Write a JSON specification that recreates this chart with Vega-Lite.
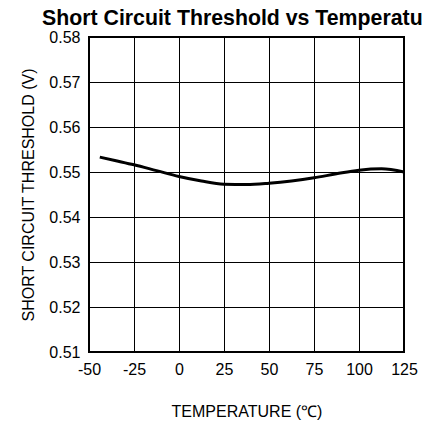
{
  "$schema": "https://vega.github.io/schema/vega-lite/v6.json",
  "autosize": "none",
  "width": 315,
  "height": 315,
  "padding": {"left": 89, "top": 37, "right": 22, "bottom": 76},
  "background": "white",
  "config": {
    "font": "Liberation Sans",
    "view": {"stroke": "black", "strokeWidth": 2}
  },
  "title": {
    "text": "Short Circuit Threshold vs Temperatu",
    "anchor": "start",
    "frame": "group",
    "dx": -47,
    "offset": 0,
    "font": "Liberation Sans",
    "fontSize": 21.3,
    "fontWeight": "bold",
    "color": "black"
  },
  "data": {
    "values": [
      {"temp": -44, "v": 0.5533},
      {"temp": -35, "v": 0.5525},
      {"temp": -25, "v": 0.5516},
      {"temp": -12.5, "v": 0.5503},
      {"temp": 0, "v": 0.5490},
      {"temp": 12.5, "v": 0.5480},
      {"temp": 25, "v": 0.5473},
      {"temp": 37.5, "v": 0.5472},
      {"temp": 50, "v": 0.5475},
      {"temp": 62.5, "v": 0.5480},
      {"temp": 75, "v": 0.5487},
      {"temp": 87.5, "v": 0.5496},
      {"temp": 100, "v": 0.5504},
      {"temp": 112.5, "v": 0.5507},
      {"temp": 125, "v": 0.5500}
    ]
  },
  "mark": {"type": "line", "color": "black", "strokeWidth": 3, "interpolate": "monotone"},
  "encoding": {
    "x": {
      "field": "temp",
      "type": "quantitative",
      "scale": {"domain": [-50, 125], "nice": false, "zero": false},
      "axis": {
        "values": [-50, -25, 0, 25, 50, 75, 100, 125],
        "labelExpr": "datum.value < 0 ? '-' + abs(datum.value) : '' + datum.value",
        "title": "TEMPERATURE (℃)",
        "titleFont": "Liberation Sans",
        "titleFontSize": 16,
        "titleFontWeight": "normal",
        "titleColor": "black",
        "titlePadding": 26,
        "labelFont": "Liberation Sans",
        "labelFontSize": 16,
        "labelColor": "black",
        "labelPadding": 9,
        "ticks": false,
        "domain": false,
        "grid": true,
        "gridColor": "black",
        "gridOpacity": 1,
        "gridWidth": 1,
        "labelFlush": false
      }
    },
    "y": {
      "field": "v",
      "type": "quantitative",
      "scale": {"domain": [0.51, 0.58], "nice": false, "zero": false},
      "axis": {
        "values": [0.51, 0.52, 0.53, 0.54, 0.55, 0.56, 0.57, 0.58],
        "format": ".2f",
        "title": "SHORT CIRCUIT THRESHOLD (V)",
        "titleFont": "Liberation Sans",
        "titleFontSize": 16,
        "titleFontWeight": "normal",
        "titleColor": "black",
        "titlePadding": 12,
        "labelFont": "Liberation Sans",
        "labelFontSize": 16,
        "labelColor": "black",
        "labelPadding": 9,
        "ticks": false,
        "domain": false,
        "grid": true,
        "gridColor": "black",
        "gridOpacity": 1,
        "gridWidth": 1,
        "labelFlush": false
      }
    }
  }
}
